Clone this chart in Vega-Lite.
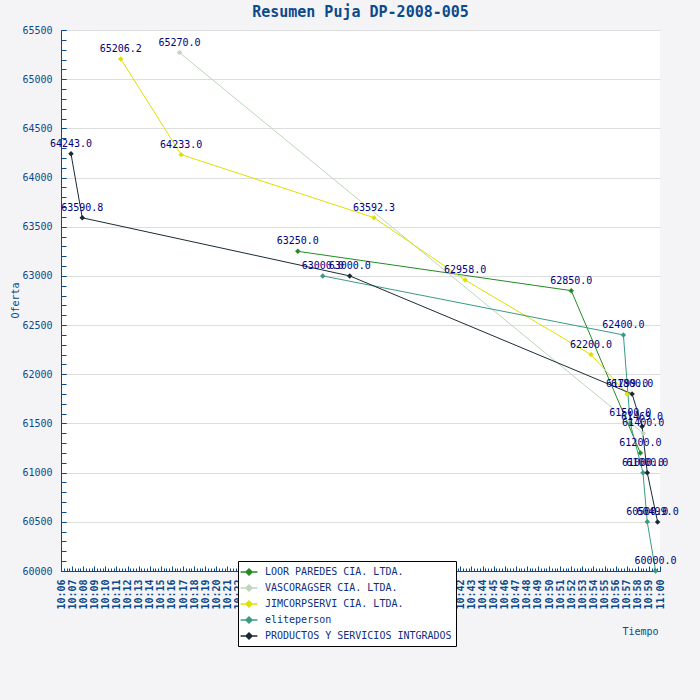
{
  "$schema": "https://vega.github.io/schema/vega-lite/v6.json",
  "autosize": {"type": "none"},
  "padding": {"left": 61, "top": 30, "right": 40, "bottom": 129},
  "width": 599,
  "height": 541,
  "background": "#f4f4f6",
  "title": {
    "text": "Resumen Puja DP-2008-005",
    "font": "DejaVu Sans Mono",
    "fontSize": 15,
    "fontWeight": "bold",
    "color": "#0b4a8c",
    "anchor": "middle",
    "frame": "group",
    "baseline": "middle",
    "offset": -2
  },
  "data": {
    "values": [
      {"postor": "LOOR PAREDES CIA. LTDA.", "tiempo": "2008-01-01T10:27:21", "oferta": 63250.0},
      {"postor": "LOOR PAREDES CIA. LTDA.", "tiempo": "2008-01-01T10:52:00", "oferta": 62850.0},
      {"postor": "LOOR PAREDES CIA. LTDA.", "tiempo": "2008-01-01T10:58:14", "oferta": 61200.0},
      {"postor": "VASCORAGSER CIA. LTDA.", "tiempo": "2008-01-01T10:16:41", "oferta": 65270.0},
      {"postor": "VASCORAGSER CIA. LTDA.", "tiempo": "2008-01-01T10:58:29", "oferta": 61400.0},
      {"postor": "JIMCORPSERVI CIA. LTDA.", "tiempo": "2008-01-01T10:11:23", "oferta": 65206.2},
      {"postor": "JIMCORPSERVI CIA. LTDA.", "tiempo": "2008-01-01T10:16:50", "oferta": 64233.0},
      {"postor": "JIMCORPSERVI CIA. LTDA.", "tiempo": "2008-01-01T10:34:13", "oferta": 63592.3},
      {"postor": "JIMCORPSERVI CIA. LTDA.", "tiempo": "2008-01-01T10:42:26", "oferta": 62958.0},
      {"postor": "JIMCORPSERVI CIA. LTDA.", "tiempo": "2008-01-01T10:53:47", "oferta": 62200.0},
      {"postor": "JIMCORPSERVI CIA. LTDA.", "tiempo": "2008-01-01T10:57:02", "oferta": 61799.0},
      {"postor": "eliteperson", "tiempo": "2008-01-01T10:29:36", "oferta": 63000.0},
      {"postor": "eliteperson", "tiempo": "2008-01-01T10:56:42", "oferta": 62400.0},
      {"postor": "eliteperson", "tiempo": "2008-01-01T10:57:19", "oferta": 61500.0},
      {"postor": "eliteperson", "tiempo": "2008-01-01T10:58:28", "oferta": 61000.0},
      {"postor": "eliteperson", "tiempo": "2008-01-01T10:58:51", "oferta": 60500.0},
      {"postor": "eliteperson", "tiempo": "2008-01-01T10:59:36", "oferta": 60000.0},
      {"postor": "PRODUCTOS Y SERVICIOS INTGRADOS", "tiempo": "2008-01-01T10:06:54", "oferta": 64243.0},
      {"postor": "PRODUCTOS Y SERVICIOS INTGRADOS", "tiempo": "2008-01-01T10:07:55", "oferta": 63590.8},
      {"postor": "PRODUCTOS Y SERVICIOS INTGRADOS", "tiempo": "2008-01-01T10:32:02", "oferta": 63000.0},
      {"postor": "PRODUCTOS Y SERVICIOS INTGRADOS", "tiempo": "2008-01-01T10:57:29", "oferta": 61800.0},
      {"postor": "PRODUCTOS Y SERVICIOS INTGRADOS", "tiempo": "2008-01-01T10:58:23", "oferta": 61469.0},
      {"postor": "PRODUCTOS Y SERVICIOS INTGRADOS", "tiempo": "2008-01-01T10:58:51", "oferta": 61000.0},
      {"postor": "PRODUCTOS Y SERVICIOS INTGRADOS", "tiempo": "2008-01-01T10:59:47", "oferta": 60499.0}
    ]
  },
  "encoding": {
    "x": {
      "field": "tiempo",
      "type": "temporal",
      "scale": {
        "domain": [
          {"year": 2008, "month": 1, "date": 1, "hours": 10, "minutes": 6},
          {"year": 2008, "month": 1, "date": 1, "hours": 11, "minutes": 0}
        ],
        "nice": false
      }
    },
    "y": {
      "field": "oferta",
      "type": "quantitative",
      "scale": {"domain": [60000, 65500], "nice": false, "zero": false}
    }
  },
  "layer": [
    {
      "mark": {
        "type": "line",
        "strokeWidth": 1,
        "point": {"shape": "diamond", "filled": true, "size": 30}
      },
      "encoding": {
        "color": {
          "field": "postor",
          "type": "nominal",
          "scale": {
            "domain": [
              "LOOR PAREDES CIA. LTDA.",
              "VASCORAGSER CIA. LTDA.",
              "JIMCORPSERVI CIA. LTDA.",
              "eliteperson",
              "PRODUCTOS Y SERVICIOS INTGRADOS"
            ],
            "range": ["#228b22", "#bcd6bc", "#e0e000", "#3a9a84", "#1b2b35"]
          },
          "legend": {
            "orient": "none",
            "legendX": 177,
            "legendY": 531,
            "title": null,
            "fillColor": "white",
            "strokeColor": "black",
            "padding": 4,
            "symbolType": "M-1.4,0L1.4,0M0,-0.5L0.5,0L0,0.5L-0.5,0Z",
            "symbolSize": 144,
            "symbolStrokeWidth": 1.5,
            "labelFont": "DejaVu Sans Mono",
            "labelFontSize": 10,
            "labelColor": "#0a2f80",
            "labelLimit": 260,
            "labelOffset": 9,
            "labelExpr": "datum.label + '  '",
            "rowPadding": 3
          }
        },
        "x": {
          "field": "tiempo",
          "type": "temporal",
          "axis": {
            "orient": "bottom",
            "title": "Tiempo",
            "titleX": 579,
            "titleY": 60,
            "titleBaseline": "middle",
            "titleFont": "DejaVu Sans Mono",
            "titleFontSize": 10,
            "titleFontWeight": "normal",
            "titleColor": "#0b4a8c",
            "format": "%H:%M",
            "tickCount": 54,
            "labelAngle": 270,
            "labelAlign": "right",
            "labelBaseline": "middle",
            "labelPadding": 13,
            "labelFont": "DejaVu Sans Mono",
            "labelFontSize": 10,
            "labelFontWeight": "bold",
            "labelColor": "#0b4a8c",
            "labelOverlap": false,
            "labelFlush": false,
            "domainColor": "#0b4a8c",
            "tickColor": "#0b4a8c",
            "tickSize": -5,
            "grid": false
          }
        },
        "y": {
          "field": "oferta",
          "type": "quantitative",
          "axis": {
            "orient": "left",
            "title": "Oferta",
            "titleX": -46,
            "titleY": 270,
            "titleAlign": "center",
            "titleBaseline": "middle",
            "titleFont": "DejaVu Sans Mono",
            "titleFontSize": 10,
            "titleFontWeight": "normal",
            "titleColor": "#0b4a8c",
            "tickCount": 11,
            "format": "d",
            "labelPadding": 14,
            "labelFont": "DejaVu Sans Mono",
            "labelFontSize": 10,
            "labelColor": "#0b4a8c",
            "labelFlush": false,
            "domainColor": "#0b4a8c",
            "tickColor": "#0b4a8c",
            "tickSize": -5,
            "grid": true,
            "gridColor": "#dddddd"
          }
        }
      }
    },
    {
      "mark": {
        "type": "text",
        "font": "DejaVu Sans Mono",
        "fontSize": 10,
        "dy": -10,
        "baseline": "middle",
        "align": "center",
        "color": "#000080"
      },
      "encoding": {
        "text": {"field": "oferta", "type": "quantitative", "format": ".1f"},
        "x": {
          "field": "tiempo",
          "type": "temporal",
          "axis": {
            "orient": "bottom",
            "title": null,
            "labels": false,
            "domain": false,
            "grid": false,
            "tickCount": 324,
            "tickColor": "#0b4a8c",
            "tickSize": -3
          }
        },
        "y": {
          "field": "oferta",
          "type": "quantitative",
          "axis": {
            "orient": "left",
            "title": null,
            "labels": false,
            "domain": false,
            "grid": false,
            "tickCount": 55,
            "tickColor": "#0b4a8c",
            "tickSize": -5
          }
        }
      }
    }
  ],
  "resolve": {"axis": {"x": "independent", "y": "independent"}},
  "config": {
    "view": {"fill": "white", "stroke": null}
  }
}
